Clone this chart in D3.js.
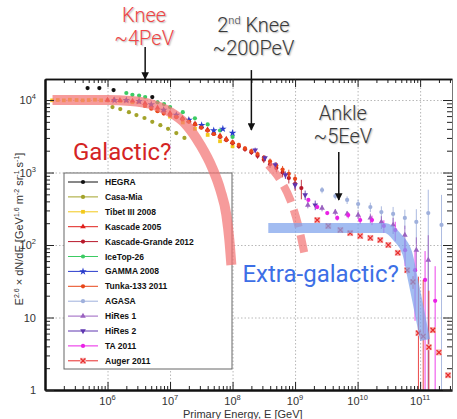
<!DOCTYPE html>
<html>
<head>
<meta charset="utf-8">
<script src="https://cdnjs.cloudflare.com/ajax/libs/d3/7.8.5/d3.min.js"></script>
<style>
  body { margin: 0; background: #fff; }
  svg { display: block; }
  .tick-label { font-family: "Liberation Sans", Arial, sans-serif; font-size: 11px; fill: #333; }
  .legend-text { font-family: "Liberation Sans", Arial, sans-serif; font-size: 8.5px; font-weight: bold; fill: #111; }
  .note { font-family: Roboto, "Liberation Sans", sans-serif; font-weight: 300; }
</style>
</head>
<body>
<svg id="chart"></svg>
<script>
// ---- data: energy [GeV], E^2.6 flux ----
var hegraE = [4.8e5, 7.4e5, 1.25e6, 5.2e6];
var hegraF = [14600, 14600, 13700, 11000];

var casaE = [1.2e6, 1.6e6, 2.2e6, 2.9e6, 3.9e6, 5.2e6, 7.0e6, 9.3e6, 1.26e7, 1.7e7];
var casaF = [8000, 7500, 6800, 6200, 5650, 5000, 4500, 4000, 3500, 3000];

var tibetE = [1.3e5, 1.6e5, 2.0e5, 2.5e5, 3.2e5, 4.0e5, 5.0e5, 6.3e5, 7.9e5, 1.0e6, 1.6e6, 2.5e6, 4.0e6, 6.3e6, 1.0e7, 1.6e7, 2.5e7, 4.0e7, 6.3e7, 1.0e8];
var tibetF = [9900, 10000, 9900, 10100, 10000, 9900, 10000, 10100, 9900, 9900, 9700, 9300, 8400, 7200, 5900, 4900, 4000, 3300, 2700, 2300];

var kascadeE = [1.0e6, 1.26e6, 1.58e6, 2.0e6, 2.51e6, 3.16e6, 3.98e6, 5.01e6, 6.31e6, 7.94e6, 1.0e7,
                1.26e7, 1.58e7, 2.0e7, 2.51e7, 3.16e7, 3.98e7, 5.01e7, 6.31e7, 7.94e7, 1.0e8];
var kascadeF = [10000, 10000, 9900, 9800, 9700, 9400, 9000, 8400, 7800, 7200, 6600,
                6100, 5600, 5200, 4700, 4300, 3900, 3500, 3200, 2900, 2600];

var kgE = [1.58e7, 2.0e7, 2.51e7, 3.16e7, 3.98e7, 5.01e7, 6.31e7, 7.94e7, 1.0e8, 1.26e8,
           1.58e8, 2.0e8, 2.51e8, 3.16e8, 3.98e8, 5.01e8, 6.31e8, 7.94e8, 1.0e9, 1.26e9];
var kgF = [5500, 5100, 4600, 4200, 3800, 3400, 3100, 2800, 2550, 2300,
           2100, 1900, 1700, 1500, 1300, 1150, 1000, 840, 700, 610];
var kgErr = [0.04, 0.04, 0.04, 0.05, 0.05, 0.05, 0.06, 0.06, 0.07, 0.07,
             0.08, 0.08, 0.09, 0.1, 0.11, 0.12, 0.14, 0.16, 0.2, 0.3];

var icetopE = [2.0e6, 2.5e6, 3.2e6, 4.0e6, 6.3e6, 8.0e6, 1.0e7, 1.6e7, 2.5e7, 4.0e7, 6.3e7, 1.0e8];
var icetopF = [12500, 11800, 11500, 11000, 9300, 8800, 8000, 6800, 5600, 4600, 3800, 3100];

var gammaE = [1.3e6, 2.0e6, 3.2e6, 5.0e6, 7.9e6, 1.26e7, 2.0e7, 3.2e7, 5.0e7, 7.0e7, 1.0e8];
var gammaF = [9900, 9900, 9600, 8700, 7300, 6200, 5300, 4500, 3800, 4000, 3500];

var tunkaE = [3.98e6, 5.01e6, 6.31e6, 7.94e6, 1.0e7, 1.26e7, 1.58e7, 2.0e7, 2.51e7, 3.16e7, 3.98e7, 5.01e7, 6.31e7,
              7.94e7, 1.0e8, 1.26e8, 1.58e8, 2.0e8, 2.51e8, 3.16e8, 3.98e8, 5.01e8, 6.31e8, 7.94e8, 1.0e9];
var tunkaF = [8300, 7600, 7000, 6500, 6200, 5800, 5400, 5000, 4600, 4150, 3800, 3400, 3150,
              2850, 2600, 2400, 2150, 1980, 1800, 1600, 1420, 1250, 1100, 960, 820];
var tunkaErr = [0.03, 0.03, 0.03, 0.03, 0.03, 0.04, 0.04, 0.04, 0.04, 0.05, 0.05, 0.05, 0.05,
                0.06, 0.06, 0.07, 0.07, 0.08, 0.08, 0.09, 0.1, 0.11, 0.12, 0.14, 0.16];

var agasaE = [2.7e9, 4.4e9, 6.8e9, 1.02e10, 1.6e10, 2.4e10, 3.7e10, 5.7e10, 8.7e10, 1.35e11, 2.2e11];
var agasaF = [574, 474, 418, 368, 334, 285, 268, 236, 208, 276, 189];
var agasaErr = [0.1, 0.1, 0.12, 0.15, 0.15, 0.2, 0.25, 0.3, 0.5, 1.1, 1.6];

var hires1E = [1.6e9, 2.7e9, 4.4e9, 6.8e9, 1.02e10, 1.6e10, 2.4e10, 3.7e10, 5.7e10, 8.7e10, 1.35e11];
var hires1F = [356, 324, 285, 268, 259, 236, 208, 189, 137, 85, 62];
var hires1Err = [0.1, 0.1, 0.1, 0.1, 0.12, 0.15, 0.2, 0.25, 0.35, 0.5, 1.2];

var hires2E = [2.3e8, 3.3e8, 4.8e8, 7.0e8, 1.0e9, 1.45e9, 2.1e9];
var hires2F = [2040, 1590, 1270, 925, 673, 490, 356];
var hires2Err = [0.08, 0.08, 0.1, 0.12, 0.12, 0.15, 0.15];

var taE = [1.63e9, 2.26e9, 3.27e9, 4.72e9, 7.08e9, 1.1e10, 1.7e10, 2.63e10, 4.0e10, 5.75e10, 8.3e10, 1.2e11, 1.74e11];
var taF = [418, 334, 276, 236, 259, 221, 221, 183, 161, 85, 45, 33, 17];
var taErr = [0.05, 0.05, 0.06, 0.08, 0.1, 0.12, 0.15, 0.2, 0.3, 0.4, 0.8, 1.5, 2.0];

var augerE = [2.26e9, 3.39e9, 5.3e9, 7.6e9, 1.1e10, 1.6e10, 2.3e10, 3.1e10, 4.4e10, 6.2e10, 7.7e10, 9.4e10, 1.12e11, 1.38e11, 1.6e11, 2.0e11, 2.8e11];
var augerF = [221, 183, 161, 146, 133, 125, 117, 100, 78, 45, 31, 6.1, 5.5, 3.9, 6.7, 3.3, 1.6];
var augerErr = [0.03, 0.03, 0.03, 0.04, 0.04, 0.05, 0.05, 0.06, 0.08, 0.1, 0.2, 5, 5, 5, 0, 0, 0];

// hand-drawn component sketches
var galacticE = [1.32e5, 1.0e6, 2.33e6, 4.86e6, 1.01e7, 1.76e7, 3.06e7, 4.75e7, 6.38e7, 7.96e7, 8.89e7, 9.57e7];
var galacticF = [10000, 10000, 9700, 8800, 6800, 4700, 2400, 1150, 574, 259, 117, 53];
var secondE = [3.73e8, 5.8e8, 8.4e8, 1.12e9, 1.46e9];
var secondF = [1270, 789, 418, 189, 66];
var extraE = [3.73e8, 1.0e10, 2.76e10, 4.28e10, 6.2e10, 7.7e10, 1.2e11];
var extraF = [171, 171, 171, 129, 78, 33, 4.9];

// arrows: energy, flux at tail, flux at head
var kneeArrow = [4e6, 53800, 19500];
var knee2Arrow = [2e8, 25900, 3860];
var ankleArrow = [5e9, 1920, 418];

var xMajor = [1e6, 1e7, 1e8, 1e9, 1e10, 1e11];
var xMajorExp = ["6", "7", "8", "9", "10", "11"];
var yMajor = [1, 10, 100, 1000, 10000];
var yMajorExp = ["", "", "2", "3", "4"];

// ---- layout ----
var graph_margin = {"top": 79, "right": 5, "bottom": 29, "left": 45};
var W = 457, H = 419;
var width = W - graph_margin.left - graph_margin.right;
var height = H - graph_margin.top - graph_margin.bottom;

var svg = d3.select("#chart").attr("width", W).attr("height", H);
var g = svg.append("g")
    .attr("transform", "translate(" + graph_margin.left + "," + graph_margin.top + ")");

var x = d3.scaleLog().domain([1e5, Math.pow(10, 11.51)]).range([0, width]);
var y = d3.scaleLog().domain([1, Math.pow(10, 4.29)]).range([height, 0]);

// minor tick positions (2..9 per decade)
var xMinor = [], yMinor = [];
for (var p = 5; p <= 11; p++) for (var k = 2; k <= 9; k++) {
    var v = k * Math.pow(10, p);
    if (v < x.domain()[1]) xMinor.push(v);
}
for (var p = 0; p <= 4; p++) for (var k = 2; k <= 9; k++) {
    var v = k * Math.pow(10, p);
    if (v < y.domain()[1]) yMinor.push(v);
}

// dotted grid
var grid = g.append("g").attr("class", "grid");
grid.append("g").attr("transform", "translate(0," + height + ")")
    .call(d3.axisBottom(x).tickValues(xMajor).tickSize(-height).tickFormat(""));
grid.append("g")
    .call(d3.axisLeft(y).tickValues(yMajor.slice(1)).tickSize(-width).tickFormat(""));
grid.selectAll(".domain").remove();
grid.selectAll("line").attr("stroke", "#b8b8b8").attr("stroke-dasharray", "1.5,2").attr("stroke-width", 1);

// ---- series ----
var series = [
    {name: "HEGRA", E: hegraE, F: hegraF, color: "#111111", shape: "circle"},
    {name: "Casa-Mia", E: casaE, F: casaF, color: "#a3a32a", shape: "circle"},
    {name: "Tibet III 2008", E: tibetE, F: tibetF, color: "#f2c81a", shape: "square"},
    {name: "Kascade 2005", E: kascadeE, F: kascadeF, color: "#e0201c", shape: "triangle"},
    {name: "Kascade-Grande 2012", E: kgE, F: kgF, err: kgErr, color: "#b8182a", shape: "circle"},
    {name: "IceTop-26", E: icetopE, F: icetopF, color: "#3ccb63", shape: "circle"},
    {name: "GAMMA 2008", E: gammaE, F: gammaF, color: "#2a3ccc", shape: "star"},
    {name: "Tunka-133 2011", E: tunkaE, F: tunkaF, err: tunkaErr, color: "#e8461a", shape: "circle"},
    {name: "AGASA", E: agasaE, F: agasaF, err: agasaErr, color: "#9fb0dc", shape: "circle"},
    {name: "HiRes 1", E: hires1E, F: hires1F, err: hires1Err, color: "#9a62c0", shape: "triangle"},
    {name: "HiRes 2", E: hires2E, F: hires2F, err: hires2Err, color: "#5e36b0", shape: "triangleDown"},
    {name: "TA 2011", E: taE, F: taF, err: taErr, color: "#ea22e6", shape: "circle"},
    {name: "Auger 2011", E: augerE, F: augerF, err: augerErr, color: "#e82a2a", shape: "cross"}
];

function drawMarker(sel, s, cx, cy) {
    var t = "translate(" + cx + "," + cy + ")";
    if (s.shape === "cross") {
        sel.append("rect").attr("x", cx - 3).attr("y", cy - 3).attr("width", 6).attr("height", 6)
            .attr("fill", "#f6b4b4");
        sel.append("path").attr("d", d3.symbol().type(d3.symbolX || d3.symbolCross).size(16)())
            .attr("transform", t).attr("fill", "none").attr("stroke", s.color).attr("stroke-width", 1.2);
        return;
    }
    var type = {circle: d3.symbolCircle, square: d3.symbolSquare, triangle: d3.symbolTriangle,
                triangleDown: d3.symbolTriangle, star: d3.symbolStar}[s.shape];
    sel.append("path").attr("d", d3.symbol().type(type).size(s.shape === "star" ? 18 : 14)())
        .attr("transform", t + (s.shape === "triangleDown" ? " rotate(180)" : ""))
        .attr("fill", s.color);
}

var yMin = y.domain()[0];
var dataLayer = g.append("g").attr("class", "data");
series.forEach(function(s) {
    var grp = dataLayer.append("g");
    s.E.forEach(function(e, i) {
        if (s.err && s.err[i] > 0) {
            var hi = s.F[i] * (1 + s.err[i]);
            var lo = Math.max(yMin, s.F[i] * (1 - Math.min(s.err[i], 0.999)));
            grp.append("line")
                .attr("x1", x(e)).attr("x2", x(e))
                .attr("y1", y(hi)).attr("y2", y(lo))
                .attr("stroke", s.color).attr("stroke-width", 1).attr("opacity", 0.85);
        }
    });
    s.E.forEach(function(e, i) {
        drawMarker(grp, s, x(e), y(s.F[i]));
    });
});

// ---- legend ----
var legend = g.append("g").attr("transform", "translate(19,94)");
legend.append("rect").attr("width", 168).attr("height", 196)
    .attr("fill", "#fff").attr("stroke", "#666").attr("stroke-width", 1);
series.forEach(function(s, i) {
    var ly = 9 + i * 14.9;
    var row = legend.append("g");
    row.append("line").attr("x1", 4).attr("x2", 34).attr("y1", ly).attr("y2", ly)
        .attr("stroke", s.color).attr("stroke-width", 1);
    drawMarker(row, s, 19, ly);
    row.append("text").attr("class", "legend-text").attr("x", 41).attr("y", ly + 3).text(s.name);
});

// ---- component sketches ----
var line = d3.line()
    .x(function(d) { return x(d[0]); })
    .y(function(d) { return y(d[1]); })
    .curve(d3.curveMonotoneX);

g.append("path").datum(d3.zip(galacticE, galacticF)).attr("d", line)
    .attr("fill", "none").attr("stroke", "#f27474").attr("stroke-width", 10).attr("opacity", 0.72);
g.append("path").datum(d3.zip(secondE, secondF)).attr("d", line)
    .attr("fill", "none").attr("stroke", "#f27474").attr("stroke-width", 8)
    .attr("stroke-dasharray", "18,8").attr("opacity", 0.72);
g.append("path").datum(d3.zip(extraE, extraF)).attr("d", line)
    .attr("fill", "none").attr("stroke", "#7ea2ec").attr("stroke-width", 10).attr("opacity", 0.72);

// ---- frame and ticks ----
function axisStyle(sel, w) {
    sel.selectAll(".domain").attr("stroke", "#111").attr("stroke-width", w);
    sel.selectAll("line").attr("stroke", "#222").attr("stroke-width", 1);
}
var bottomMinor = g.append("g").attr("transform", "translate(0," + height + ")")
    .call(d3.axisBottom(x).tickValues(xMinor).tickSize(-4).tickSizeOuter(0).tickFormat(""));
var bottomMajor = g.append("g").attr("transform", "translate(0," + height + ")")
    .call(d3.axisBottom(x).tickValues(xMajor).tickSize(-8).tickSizeOuter(0).tickFormat(""));
axisStyle(bottomMinor, 2); axisStyle(bottomMajor, 2);

var topMinor = g.append("g").call(d3.axisTop(x).tickValues(xMinor).tickSize(-4).tickSizeOuter(0).tickFormat(""));
var topMajor = g.append("g").call(d3.axisTop(x).tickValues(xMajor).tickSize(-8).tickSizeOuter(0).tickFormat(""));
axisStyle(topMinor, 1.5); axisStyle(topMajor, 1.5);

var leftMinor = g.append("g").call(d3.axisLeft(y).tickValues(yMinor).tickSize(-5).tickSizeOuter(0).tickFormat(""));
var leftMajor = g.append("g").call(d3.axisLeft(y).tickValues(yMajor).tickSize(-9).tickSizeOuter(0).tickFormat(""));
axisStyle(leftMinor, 2); axisStyle(leftMajor, 2);

var rightMinor = g.append("g").attr("transform", "translate(" + width + ",0)")
    .call(d3.axisRight(y).tickValues(yMinor).tickSize(-5).tickSizeOuter(0).tickFormat(""));
var rightMajor = g.append("g").attr("transform", "translate(" + width + ",0)")
    .call(d3.axisRight(y).tickValues(yMajor).tickSize(-9).tickSizeOuter(0).tickFormat(""));
axisStyle(rightMinor, 1); axisStyle(rightMajor, 1);
rightMinor.select(".domain").attr("stroke", "#777");
rightMajor.select(".domain").attr("stroke", "#777");

// tick labels with superscripts
xMajor.forEach(function(v, i) {
    var t = g.append("text").attr("class", "tick-label").attr("text-anchor", "middle")
        .attr("x", x(v)).attr("y", height + 15);
    t.append("tspan").text("10");
    t.append("tspan").attr("dy", -5).attr("font-size", "7.5px").text(xMajorExp[i]);
});
yMajor.forEach(function(v, i) {
    var t = g.append("text").attr("class", "tick-label").attr("text-anchor", "end")
        .attr("x", -9).attr("y", y(v) + 4);
    t.append("tspan").text(v === 1 ? "1" : "10");
    if (yMajorExp[i]) t.append("tspan").attr("dy", -5).attr("font-size", "7.5px").text(yMajorExp[i]);
});

// axis titles
svg.append("text").attr("class", "tick-label").attr("font-size", "11.5px")
    .attr("x", 183).attr("y", 417.5).text("Primary Energy, E [GeV]");

var ylab = svg.append("text").attr("class", "tick-label").attr("font-size", "10.5px")
    .attr("text-anchor", "middle")
    .attr("transform", "translate(23," + 229 + ")rotate(-90)");
[["E", 0], ["2.6", 1], [" \u00d7 dN/dE [GeV", 0], ["1.6", 1], [" m", 0], ["-2", 1],
 [" sr", 0], ["-1", 1], [" s", 0], ["-1", 1], ["]", 0]].forEach(function(p, i, arr) {
    var ts = ylab.append("tspan").text(p[0]);
    if (p[1]) ts.attr("dy", -4).attr("font-size", "7px");
    else if (i > 0 && arr[i - 1][1]) ts.attr("dy", 4);
});

// ---- annotations ----
svg.append("defs").append("marker")
    .attr("id", "arrowhead").attr("viewBox", "0 0 10 10")
    .attr("refX", 9).attr("refY", 5).attr("markerWidth", 5).attr("markerHeight", 5)
    .attr("orient", "auto")
  .append("path").attr("d", "M0,0 L10,5 L0,10 z").attr("fill", "#111");

[kneeArrow, knee2Arrow, ankleArrow].forEach(function(a) {
    g.append("line")
        .attr("x1", x(a[0])).attr("x2", x(a[0]))
        .attr("y1", y(a[1])).attr("y2", y(a[2]))
        .attr("stroke", "#111").attr("stroke-width", 1.5)
        .attr("marker-end", "url(#arrowhead)");
});

function note(lines, cx, baseY, color) {
    lines.forEach(function(l, i) {
        var t = g.append("text").attr("class", "note")
            .attr("text-anchor", "middle").attr("font-size", "20px")
            .attr("x", cx).attr("y", baseY + i * 23)
            .attr("fill", color)
            .style("text-shadow", "1px 1px 1.5px rgba(0,0,0,0.3)");
        if (typeof l === "string") {
            t.text(l);
        } else {
            t.append("tspan").text(l.pre);
            t.append("tspan").attr("dy", -8).attr("font-size", "11px").text(l.sup);
            t.append("tspan").attr("dy", 8).text(l.post);
        }
    });
}
note(["Knee", "~4PeV"], x(kneeArrow[0]) - 1, y(kneeArrow[1]) - 25, "#ef4545");
note([{pre: "2", sup: "nd", post: " Knee"}, "~200PeV"], x(knee2Arrow[0]) + 2, y(knee2Arrow[1]) - 38, "#3a3a3a");
note(["Ankle", "~5EeV"], x(ankleArrow[0]) + 4, y(ankleArrow[1]) - 32, "#3a3a3a");

g.append("text").attr("class", "note").style("font-weight", 400)
    .attr("x", x(2.8e5)).attr("y", y(1490)).attr("font-size", "24px")
    .attr("fill", "#d42424").text("Galactic?");
g.append("text").attr("class", "note").style("font-weight", 400)
    .attr("x", x(1.44e8)).attr("y", y(31)).attr("font-size", "24px")
    .attr("fill", "#3d6fe6").text("Extra-galactic?");
</script>
</body>
</html>
